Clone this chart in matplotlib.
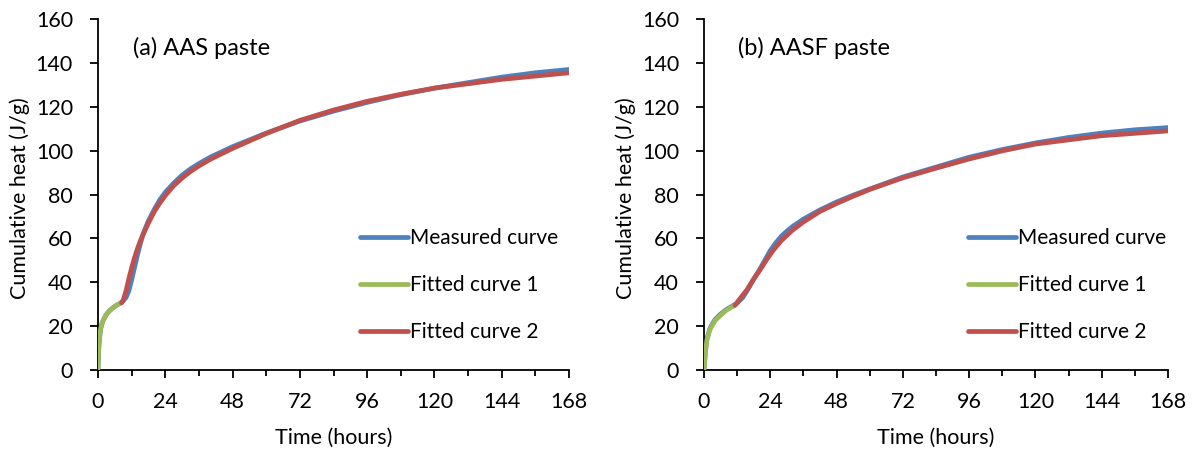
import matplotlib
matplotlib.use("Agg")
import matplotlib.pyplot as plt
from matplotlib.ticker import MultipleLocator

plt.rcParams['font.family'] = ['Lato', 'DejaVu Sans']

# ---- Panel (a) AAS paste ----
a_meas_t = [0, 0.3, 0.7, 1, 1.5, 2, 3, 4, 5, 6, 7, 8, 9, 10, 11, 12, 13, 14, 15, 16,
            17, 18, 20, 22, 24, 27, 30, 33, 36, 40, 48, 60, 72, 84, 96, 108, 120,
            132, 144, 156, 168]
a_meas_y = [0, 10, 16, 19, 21.5, 23, 25.3, 26.9, 28, 29, 29.8, 30.5, 31.5, 33, 36, 41,
            46.5, 52, 57, 61.5, 65, 68, 73, 77.5, 81, 85.2, 88.8, 91.7, 94.1, 97, 101.8,
            108, 113.5, 118, 122, 125.5, 128.5, 131, 133.5, 135.5, 137]
a_fit1_t = [0, 0.3, 0.7, 1, 1.5, 2, 3, 4, 5, 6, 7, 8, 8.4]
a_fit1_y = [0, 11, 16.5, 19, 21.5, 23, 25.3, 26.8, 28, 29, 29.8, 30.4, 30.6]
a_fit2_t = [8.4, 9, 10, 11, 12, 13, 14, 15, 16, 18, 20, 22, 24, 27, 30, 33, 36, 40,
            48, 60, 72, 84, 96, 108, 120, 144, 168]
a_fit2_y = [30.6, 31.8, 36, 41.5, 46.5, 51, 55, 58.5, 61.5, 67, 72, 76, 79.5, 84, 87.5,
            90.5, 93, 96, 101, 107.8, 113.8, 118.5, 122.5, 125.7, 128.5, 132.5, 135.5]

# ---- Panel (b) AASF paste ----
b_meas_t = [0, 0.5, 1, 2, 3, 4, 6, 8, 10, 12, 14, 16, 18, 20, 22, 24, 26, 28, 30, 32,
            36, 42, 48, 54, 60, 72, 84, 96, 108, 120, 132, 144, 156, 168]
b_meas_y = [0, 9, 14, 18.5, 21, 23, 25.5, 27.5, 29, 30.5, 33, 37, 41.5, 45.5, 50, 54.5,
            58, 61, 63.3, 65.4, 68.8, 73, 76.6, 79.7, 82.5, 88, 92.5, 97, 100.5, 103.5,
            106, 108, 109.5, 110.5]
b_fit1_t = [0, 0.5, 1, 2, 3, 4, 6, 8, 10, 11.2]
b_fit1_y = [0, 8, 13.5, 18, 20.5, 22.5, 25, 27.2, 28.7, 29.5]
b_fit2_t = [11.2, 13, 15.5, 18, 20.3, 22.5, 25, 28, 32, 36, 42, 48, 54, 60, 72, 84, 96,
            108, 120, 144, 168]
b_fit2_y = [29.5, 32.5, 36.5, 41.5, 45.7, 50, 54.5, 59, 63.7, 67.5, 72.3, 75.9, 79.2,
            82.3, 87.6, 92, 96.2, 99.9, 103, 106.8, 109]

panel_titles = ["(a) AAS paste", "(b) AASF paste"]
legend_labels = ["Measured curve", "Fitted curve 1", "Fitted curve 2"]
x_ticks = [0, 24, 48, 72, 96, 120, 144, 168]
y_ticks = [0, 20, 40, 60, 80, 100, 120, 140, 160]

c_blue = "#4F81BD"
c_green = "#9BBB59"
c_red = "#C0504D"

fig = plt.figure(figsize=(11.99, 4.53), dpi=100)
ax_a = fig.add_axes([0.0817, 0.1832, 0.3929, 0.7748])
ax_b = fig.add_axes([0.5872, 0.1832, 0.3869, 0.7748])

data = [
    (ax_a, a_meas_t, a_meas_y, a_fit1_t, a_fit1_y, a_fit2_t, a_fit2_y, panel_titles[0], 0.556),
    (ax_b, b_meas_t, b_meas_y, b_fit1_t, b_fit1_y, b_fit2_t, b_fit2_y, panel_titles[1], 0.569),
]

fs = 15.5
lw = 3.4
for ax, mt, my, f1t, f1y, f2t, f2y, title, lx in data:
    kw = dict(lw=lw, solid_capstyle='round', solid_joinstyle='round')
    ax.plot(mt, my, color=c_blue, label=legend_labels[0], zorder=2, **kw)
    ax.plot(f1t, f1y, color=c_green, label=legend_labels[1], zorder=3, **kw)
    ax.plot(f2t, f2y, color=c_red, label=legend_labels[2], zorder=3, **kw)
    ax.set_xlim(0, 168)
    ax.set_ylim(0, 160)
    ax.set_xticks(x_ticks)
    ax.xaxis.set_minor_locator(MultipleLocator(12))
    ax.set_yticks(y_ticks)
    ax.tick_params(axis='both', which='major', direction='out', length=6, width=1.3,
                   labelsize=fs, color='black')
    ax.tick_params(axis='x', which='minor', direction='out', length=4, width=1.3)
    ax.tick_params(axis='x', which='major', pad=10)
    ax.tick_params(axis='y', which='major', pad=12)
    for s in ['top', 'right']:
        ax.spines[s].set_visible(False)
    for s in ['left', 'bottom']:
        ax.spines[s].set_linewidth(1.3)
        ax.spines[s].set_color('black')
    ax.set_xlabel("Time (hours)", fontsize=fs, va='center')
    ax.set_ylabel("Cumulative heat (J/g)", fontsize=fs, va='center')
    ax.xaxis.set_label_coords(0.5, -0.194)
    ax.yaxis.set_label_coords(-0.166 * 471 / (ax.get_position().width * 1199), 0.49)
    ax.text(0.074, 0.917, title, transform=ax.transAxes, fontsize=17, va='center', ha='left')
    ax.legend(loc='center left', bbox_to_anchor=(lx, 0.242), frameon=False, fontsize=15,
              handlelength=2.3, handletextpad=0.12, labelspacing=1.3, borderpad=0,
              borderaxespad=0)

fig.savefig("out.png", dpi=100)
